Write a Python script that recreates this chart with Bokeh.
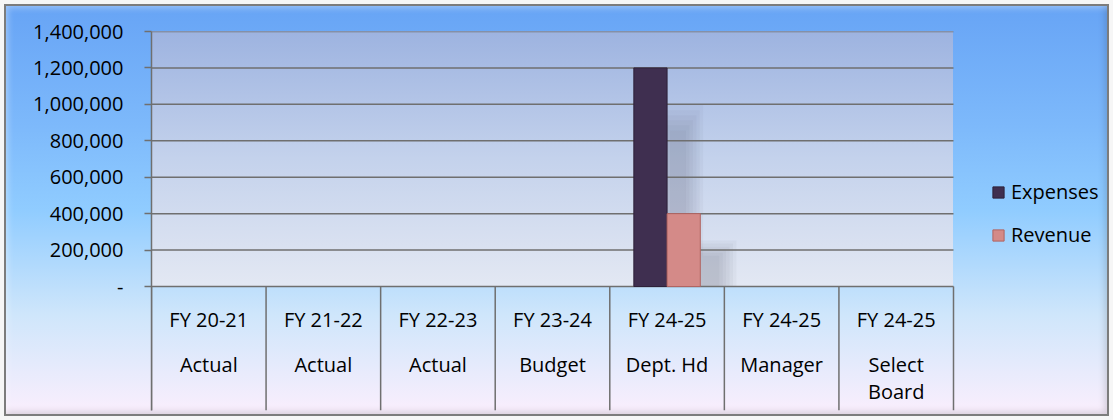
from bokeh.plotting import figure
from bokeh.models import (FixedTicker, NumeralTickFormatter, Legend, LegendItem,
                          ColumnDataSource, Range1d, CDSView, BooleanFilter)
from bokeh.core.properties import value
from bokeh.embed import file_html
from bokeh.resources import INLINE
from bokeh.transform import dodge

# ---- data ----
years = ["FY 20-21", "FY 21-22", "FY 22-23", "FY 23-24", "FY 24-25", "FY 24-25", "FY 24-25"]
stages = ["Actual", "Actual", "Actual", "Budget", "Dept. Hd", "Manager", "Select\nBoard"]
expenses = [0, 0, 0, 0, 1200000, 0, 0]
revenue = [0, 0, 0, 0, 400000, 0, 0]
y_ticks = [0, 200000, 400000, 600000, 800000, 1000000, 1200000, 1400000]

FONT = "Open Sans"
FS = "20px"
GRID = "#6f6f6f"

# ---- layout (pixels) ----
W, H = 1113, 420
FRAME_L, CAT_R, FRAME_T, ZERO_Y, FRAME_B = 151, 953, 31, 286, 410
ymax = y_ticks[-1]
per_px = ymax / (ZERO_Y - FRAME_T)          # data units per pixel
ymin = -(FRAME_B - ZERO_Y) * per_px         # table area below the zero line
ROW1_TOP = 305
ROW2_TOP = 350

n = len(years)
cat_px = (CAT_R - FRAME_L) / n
xmax = n + (W - CAT_R) / cat_px             # frame runs to the right edge (legend area)
centers = [i + 0.5 for i in range(n)]
bounds = list(range(n + 1))
source = ColumnDataSource(dict(x=centers, expenses=expenses, revenue=revenue,
                               years=years, stages=stages))

p = figure(width=W, height=H, x_range=Range1d(0, xmax), y_range=Range1d(ymin, ymax),
           output_backend="svg", toolbar_location=None, x_axis_type=None,
           min_border_left=FRAME_L, min_border_right=0,
           min_border_top=FRAME_T, min_border_bottom=H - FRAME_B)

p.border_fill_color = None
p.background_fill_color = None
p.outline_line_color = None
p.styles = {
    "background": (f"linear-gradient(180deg, #9db3e0 0%, #c4d2ec 50%, #e3e8f3 100%) "
                   f"{FRAME_L}px {FRAME_T}px / {CAT_R - FRAME_L}px {ZERO_Y - FRAME_T}px no-repeat, "
                   "linear-gradient(180deg, #66a3f5 0%, #7db9fb 30%, #90ccff 50%, #cfe6fb 75%, #fdeffd 100%)"),
    "box-shadow": ("inset 0 0 0 4px #f6f6f6, inset 0 0 0 6px #7c7c7c, "
                   "inset 8px 8px 6px rgba(255,255,255,0.35), inset -8px -8px 7px rgba(0,0,0,0.15)"),
}

# soft bar shadows (offset to the right, drawn under the grid lines)
w = 0.29
layers = 6
for k in range(layers):
    t = k / (layers - 1)
    dw = 0.44 - 0.30 * t
    a = 0.93 - 0.07 * t
    b = 120000 + 55000 * t
    sh = ColumnDataSource(dict(
        x=centers,
        e=[max(a * v - b, 0) for v in expenses],
        r=[max(a * v - b, 0) for v in revenue]))
    p.vbar(x=dodge("x", -w / 2 + 0.24, range=p.x_range), top="e", width=dw, source=sh,
           fill_color="#3c4a68", fill_alpha=0.045, line_color=None)
    p.vbar(x=dodge("x", w / 2 + 0.24, range=p.x_range), top="r", width=dw, source=sh,
           fill_color="#3c4a68", fill_alpha=0.045, line_color=None)

# grid lines (value area only)
p.segment(x0=[0] * len(y_ticks), x1=[n] * len(y_ticks), y0=y_ticks, y1=y_ticks,
          line_color=GRID, line_width=1.5)

# bars (zero values are not drawn)
view_e = CDSView(filter=BooleanFilter(booleans=[v > 0 for v in expenses]))
view_r = CDSView(filter=BooleanFilter(booleans=[v > 0 for v in revenue]))
r1 = p.vbar(x=dodge("x", -w / 2, range=p.x_range), top="expenses", width=w, source=source,
            view=view_e, fill_color="#3f2f50", line_color="#2d2139", line_width=1)
r2 = p.vbar(x=dodge("x", w / 2, range=p.x_range), top="revenue", width=w, source=source,
            view=view_r, fill_color="#d48a88", line_color="#b06462", line_width=1)

# y axis
ya = p.yaxis[0]
ya.ticker = FixedTicker(ticks=y_ticks)
ya.formatter = NumeralTickFormatter(format="0,0")
ya.major_label_overrides = {0: "-"}
ya.major_tick_out = 7
ya.major_tick_in = 0
ya.minor_tick_line_color = None
ya.axis_line_color = GRID
ya.axis_line_width = 1.5
ya.major_tick_line_color = GRID
ya.major_tick_line_width = 1.5
ya.major_label_standoff = 21
ya.major_label_text_font = FONT
ya.major_label_text_font_size = FS
ya.major_label_text_color = "black"
p.ygrid.visible = False

# category table below the zero line
p.segment(x0=bounds, y0=[0] * len(bounds), x1=bounds, y1=[ymin] * len(bounds),
          line_color=GRID, line_width=1.5)
p.text(x="x", y=-(ROW1_TOP - ZERO_Y) * per_px, text="years", source=source,
       text_font=value(FONT), text_font_size=FS, text_color="black",
       text_align="center", text_baseline="top")
p.text(x="x", y=-(ROW2_TOP - ZERO_Y) * per_px, text="stages", source=source,
       text_font=value(FONT), text_font_size=FS, text_color="black",
       text_align="center", text_baseline="top", text_line_height=1.0)

legend = Legend(items=[LegendItem(label="Expenses", renderers=[r1]),
                       LegendItem(label="Revenue", renderers=[r2])],
                location=(991 - FRAME_L, 162), orientation="vertical",
                glyph_width=14, glyph_height=14, label_height=14, spacing=16,
                label_standoff=6, padding=0, margin=0,
                border_line_color=None, background_fill_alpha=0,
                label_text_font=FONT, label_text_font_size=FS, label_text_color="black")
p.add_layout(legend)

open("out.html", "w").write(file_html(p, INLINE))
